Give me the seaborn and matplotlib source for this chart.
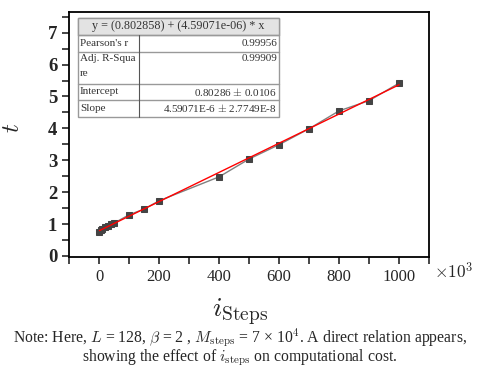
import numpy as np
import pandas as pd
import matplotlib
matplotlib.use("Agg")
import matplotlib.pyplot as plt
import seaborn as sns
from matplotlib.ticker import MultipleLocator, FuncFormatter
from matplotlib.patches import Rectangle

# ---- data (i_steps in units of 10^3, t) ----
i_steps = [1, 5, 10, 20, 30, 40, 50, 100, 150, 200, 400, 500, 600, 700, 800, 900, 1000]
t_vals = [0.76, 0.80, 0.85, 0.90, 0.95, 1.00, 1.03, 1.29, 1.47, 1.73, 2.48, 3.04, 3.49, 3.99, 4.55, 4.87, 5.42]

table_header = "y = (0.802858) + (4.59071e-06) * x"
table_rows = [("Pearson's r", "0.99956"),
              ("Adj. R-Squa\nre", "0.99909"),
              ("Intercept", "0.80286 $\\pm$ 0.0106"),
              ("Slope", "4.59071E-6 $\\pm$ 2.7749E-8")]

df = pd.DataFrame({"i": i_steps, "t": t_vals})

sns.set_style("ticks")
plt.rcParams["font.family"] = ["Liberation Serif", "DejaVu Serif"]
plt.rcParams["mathtext.fontset"] = "cm"

fig = plt.figure(figsize=(4.8, 3.75), dpi=100)
ax = fig.add_axes([0.144, 0.315, 0.750, 0.653])

sns.lineplot(data=df, x="i", y="t", ax=ax, color="#808080", lw=1.0,
             marker="s", markersize=5, markerfacecolor="#444444",
             markeredgecolor="#444444")
sns.regplot(data=df, x="i", y="t", ax=ax, scatter=False, ci=None,
            color="red", line_kws={"lw": 1.0})

ax.set_xlim(-100, 1100)
ax.set_ylim(-0.03, 7.65)
ax.xaxis.set_major_locator(MultipleLocator(100))
ax.yaxis.set_major_locator(MultipleLocator(0.5))
ax.xaxis.set_major_formatter(FuncFormatter(lambda v, p: f"{int(round(v))}" if (round(v) % 200 == 0 and v >= 0) else ""))
ax.yaxis.set_major_formatter(FuncFormatter(lambda v, p: f"{int(round(v))}" if abs(v - round(v)) < 1e-6 else ""))
ax.tick_params(direction="out", length=5, width=1.2, top=False, right=False)
for lab in ax.get_yticklabels():
    lab.set_fontweight("bold")
    lab.set_fontsize(13.5)
for lab in ax.get_xticklabels():
    lab.set_fontsize(12)
for s in ax.spines.values():
    s.set_visible(True)
    s.set_linewidth(1.3)
    s.set_color("black")

ax.set_xlabel("")
ax.set_ylabel("")
fig.text(0.028, 0.66, "$t$", rotation=90, fontsize=18, ha="center", va="center")
fig.text(0.50, 0.168, "$i_{\\mathrm{Steps}}$", fontsize=20, ha="center", va="center")
fig.text(0.905, 0.275, "$\\times 10^3$", fontsize=12.5, ha="left", va="center")

fig.text(0.5, 0.099,
         "Note: Here, $L$ = 128, $\\beta$ = 2 , $M_{\\mathrm{steps}}$ = 7 × 10$^4$. A direct relation appears,",
         fontsize=11.3, ha="center", va="center")
fig.text(0.5, 0.045,
         "showing the effect of $i_{\\mathrm{steps}}$ on computational cost.",
         fontsize=11.3, ha="center", va="center")

# ---- fit statistics table (drawn in figure pixel coords) ----
W, H = 480.0, 375.0
x0, x1, xm = 78, 279, 139
row_edges = [18, 35, 52, 84, 100, 117]
tr = fig.transFigure
def fx(px): return px / W
def fy(py): return 1 - py / H
fig.patches.append(Rectangle((fx(x0), fy(row_edges[-1])), fx(x1) - fx(x0),
                             fy(row_edges[0]) - fy(row_edges[-1]), transform=tr,
                             facecolor="white", edgecolor="#999999", lw=1.0, zorder=5))
fig.patches.append(Rectangle((fx(x0), fy(row_edges[1])), fx(x1) - fx(x0),
                             fy(row_edges[0]) - fy(row_edges[1]), transform=tr,
                             facecolor="#e3e3e3", edgecolor="#999999", lw=1.0, zorder=5))
for yy in row_edges[1:-1]:
    fig.lines.append(plt.Line2D([fx(x0), fx(x1)], [fy(yy), fy(yy)], transform=tr,
                                color="#999999", lw=1.0, zorder=6))
fig.lines.append(plt.Line2D([fx(xm), fx(xm)], [fy(row_edges[1]), fy(row_edges[-1])],
                            transform=tr, color="#555555", lw=0.8, zorder=6))
fig.text(fx((x0 + x1) / 2), fy((row_edges[0] + row_edges[1]) / 2), table_header,
         fontsize=8.7, ha="center", va="center", color="#333333", zorder=7)
for k, (name, val) in enumerate(table_rows):
    top = row_edges[k + 1]
    bot = row_edges[k + 2]
    if "\n" in name:
        fig.text(fx(x0 + 2), fy(top + 2), name, fontsize=8, ha="left", va="top",
                 color="#333333", linespacing=1.8, zorder=7)
        fig.text(fx(x1 - 2), fy(top + 2), val, fontsize=8, ha="right", va="top",
                 color="#333333", zorder=7)
    else:
        fig.text(fx(x0 + 2), fy((top + bot) / 2), name, fontsize=8, ha="left",
                 va="center", color="#333333", zorder=7)
        fig.text(fx(x1 - 2), fy((top + bot) / 2), val, fontsize=8, ha="right",
                 va="center", color="#333333", zorder=7)

fig.savefig("out.png", dpi=100)
